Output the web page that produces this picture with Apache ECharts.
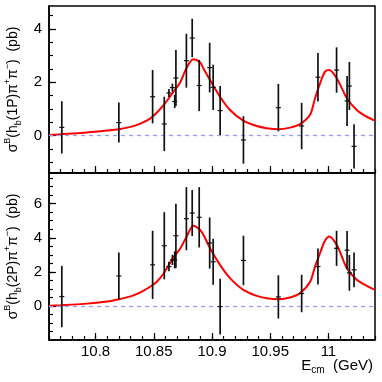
<!DOCTYPE html>
<html><head><meta charset="utf-8">
<script src="https://cdn.jsdelivr.net/npm/echarts@6/dist/echarts.min.js"></script>
<style>html,body{margin:0;padding:0;background:#fff;}#c{width:382px;height:382px;}</style>
</head><body><div id="c"></div>
<script>
// ---- data ----
const energies = [10.771, 10.820, 10.849, 10.859, 10.863, 10.866, 10.868, 10.869, 10.878, 10.883, 10.889,
                  10.898, 10.901, 10.907, 10.927, 10.957, 10.977, 10.991, 11.007, 11.016, 11.018, 11.022];
const sigma1P = [0.31, 0.49, 1.46, 0.44, 1.60, 1.80, 1.28, 2.16, 2.81, 3.66, 1.88,
                 2.55, 1.81, 0.94, -0.16, 1.05, 0.36, 2.19, 2.46, 1.30, 1.86, -0.40];
const err1P   = [0.98, 0.75, 1.00, 1.02, 0.15, 0.15, 0.25, 1.05, 1.01, 0.72, 0.96,
                 0.93, 0.85, 0.92, 0.89, 0.89, 0.87, 0.91, 0.85, 0.94, 0.90, 0.83];
const sigma2P = [0.55, 1.76, 2.41, 3.53, 2.31, 2.70, 2.70, 4.12, 5.12, 5.45, 5.20,
                 3.69, 2.59, -0.04, 2.67, 0.53, 0.73, 2.31, 3.38, 3.27, 1.94, 2.12];
const err2P   = [1.80, 1.37, 2.00, 1.97, 0.28, 0.30, 0.50, 1.88, 1.85, 1.35, 1.77,
                 1.50, 1.35, 1.64, 1.45, 1.27, 1.10, 1.06, 1.03, 1.12, 1.05, 1.02];

const fitE = [10.760, 10.770, 10.790, 10.810, 10.820, 10.830, 10.838, 10.8472, 10.853, 10.8586, 10.867,
              10.8726, 10.8783, 10.884, 10.8897, 10.8926, 10.8983, 10.9069, 10.9155, 10.9269, 10.9384,
              10.947, 10.957, 10.967, 10.9756, 10.9842, 10.9885, 10.9928, 10.9971, 11.0008, 11.0071,
              11.0115, 11.0158, 11.0243, 11.0315, 11.0386, 11.040];
const fit1P = [0.02, 0.05, 0.11, 0.19, 0.24, 0.33, 0.44, 0.65, 0.88, 1.15, 1.65,
               1.99, 2.55, 2.86, 2.75, 2.52, 2.09, 1.46, 0.96, 0.56, 0.36,
               0.28, 0.24, 0.30, 0.43, 0.78, 1.40, 1.96, 2.40, 2.46, 2.15,
               1.78, 1.40, 0.96, 0.74, 0.59, 0.57];
const fit2P = [0.01, 0.04, 0.12, 0.26, 0.39, 0.56, 0.78, 1.14, 1.45, 1.92, 2.86,
               3.35, 4.08, 4.71, 4.47, 4.18, 3.39, 2.41, 1.63, 0.94, 0.59,
               0.45, 0.39, 0.49, 0.75, 1.40, 2.31, 3.10, 3.84, 4.08, 3.59,
               2.90, 2.22, 1.53, 1.24, 0.98, 0.96];

const xMajorTicks = [10.8, 10.85, 10.9, 10.95, 11.0];
const y1MajorTicks = [0, 2, 4];
const y2MajorTicks = [0, 2, 4, 6];

// ---- build ----
const xMinorTicks = [];
for (let i = 0; i <= 28; i++) xMinorTicks.push(+(10.76 + i * 0.01).toFixed(2));
const y1MinorTicks = [];
for (let v = -1; v <= 4.5; v += 0.5) y1MinorTicks.push(v);
const y2MinorTicks = [];
for (let v = -1.5; v <= 7.5; v += 0.5) y2MinorTicks.push(v);

const FONT = 'Liberation Sans';
const X_MIN = 10.76, X_MAX = 11.04;

function xAxisPair(grid, withLabels) {
  return [
    { type: 'value', gridIndex: grid, min: X_MIN, max: X_MAX, position: 'bottom',
      axisLine: { show: true, onZero: false, lineStyle: { color: '#000', width: 1.5 } },
      axisTick: { show: true, inside: true, length: 7, customValues: xMajorTicks, lineStyle: { color: '#000', width: 1.2 } },
      axisLabel: { show: withLabels, customValues: xMajorTicks, margin: 4,
                   formatter: v => String(+(+v).toFixed(2)),
                   color: '#000', fontFamily: FONT, fontSize: 15 },
      splitLine: { show: false } },
    { type: 'value', gridIndex: grid, min: X_MIN, max: X_MAX, position: 'bottom',
      axisLine: { show: false, onZero: false },
      axisTick: { show: true, inside: true, length: 4, customValues: xMinorTicks, lineStyle: { color: '#000', width: 1.2 } },
      axisLabel: { show: false }, splitLine: { show: false } }
  ];
}
const richName = {
  m: { fontFamily: FONT, fontSize: 14, color: '#000', lineHeight: 20, verticalAlign: 'middle' },
  sup: { fontFamily: FONT, fontSize: 9, color: '#000', lineHeight: 10, verticalAlign: 'top' },
  sub: { fontFamily: FONT, fontSize: 9, color: '#000', lineHeight: 10, verticalAlign: 'bottom' }
};
function yAxisPair(grid, min, max, majors, minors, name) {
  return [
    { type: 'value', gridIndex: grid, min: min, max: max, position: 'left',
      name: name, nameLocation: 'middle', nameRotate: 90, nameGap: 22,
      nameTextStyle: { rich: richName },
      axisLine: { show: true, onZero: false, lineStyle: { color: '#000', width: 1.5 } },
      axisTick: { show: true, inside: true, length: 7, customValues: majors, lineStyle: { color: '#000', width: 1.2 } },
      axisLabel: { show: true, customValues: majors, margin: 7, color: '#000', fontFamily: FONT, fontSize: 15 },
      splitLine: { show: false } },
    { type: 'value', gridIndex: grid, min: min, max: max, position: 'left',
      axisLine: { show: false, onZero: false },
      axisTick: { show: true, inside: true, length: 4, customValues: minors, lineStyle: { color: '#000', width: 1.2 } },
      axisLabel: { show: false }, splitLine: { show: false } }
  ];
}

function errRender(params, api) {
  const x = api.value(0), y = api.value(1), e = api.value(2);
  const c = api.coord([x, y]);
  const hi = api.coord([x, y + e]);
  const lo = api.coord([x, y - e]);
  return { type: 'group', children: [
    { type: 'line', shape: { x1: c[0], y1: hi[1], x2: c[0], y2: lo[1] }, style: { stroke: '#111', lineWidth: 1.7 } },
    { type: 'line', shape: { x1: c[0] - 2.5, y1: c[1], x2: c[0] + 2.5, y2: c[1] }, style: { stroke: '#111', lineWidth: 1.2 } }
  ]};
}

function errSeries(xi, yi, vals, errs) {
  return { type: 'custom', xAxisIndex: xi, yAxisIndex: yi, renderItem: errRender, z: 5,
           encode: { x: 0, y: 1 },
           data: energies.map((e, i) => [e, vals[i], errs[i]]) };
}
function fitSeries(xi, yi, vals) {
  return { type: 'line', xAxisIndex: xi, yAxisIndex: yi, showSymbol: false, smooth: 0.3, z: 3,
           lineStyle: { color: '#ff0000', width: 2 },
           data: fitE.map((e, i) => [e, vals[i]]),
           markLine: { silent: true, symbol: ['none', 'none'], label: { show: false },
                       lineStyle: { color: '#9a9aff', type: [4, 4], width: 1.3 },
                       data: [{ yAxis: 0 }] } };
}

const name1 = '{m|σ}{sup|B}{m|(h}{sub|b}{m|(1P)π}{sup|+}{m|π}{sup|−}{m|)  (pb)}';
const name2 = '{m|σ}{sup|B}{m|(h}{sub|b}{m|(2P)π}{sup|+}{m|π}{sup|−}{m|)  (pb)}';

const chart = echarts.init(document.getElementById('c'));
chart.setOption({
  animation: false,
  backgroundColor: '#fff',
  grid: [
    { left: 49, top: 6, width: 326, height: 167, show: true, borderColor: '#000', borderWidth: 1.5,
      backgroundColor: 'transparent', containLabel: false, outerBoundsMode: 'none' },
    { left: 49, top: 173, width: 326, height: 167, show: true, borderColor: '#000', borderWidth: 1.5,
      backgroundColor: 'transparent', containLabel: false, outerBoundsMode: 'none' }
  ],
  xAxis: [].concat(xAxisPair(0, false), xAxisPair(1, true)),
  yAxis: [].concat(
    yAxisPair(0, -1.4, 4.86, y1MajorTicks, y1MinorTicks, name1),
    yAxisPair(1, -2, 7.8, y2MajorTicks, y2MinorTicks, name2)),
  graphic: [{
    type: 'text', right: 9, top: 358,
    style: { text: '{m|E}{sub|cm}{m|  (GeV)}', rich: {
      m: { fontFamily: FONT, fontSize: 15, fill: '#000', lineHeight: 20, verticalAlign: 'middle' },
      sub: { fontFamily: FONT, fontSize: 10, fill: '#000', lineHeight: 12, verticalAlign: 'bottom' } } }
  }],
  series: [
    fitSeries(0, 0, fit1P), errSeries(0, 0, sigma1P, err1P),
    fitSeries(2, 2, fit2P), errSeries(2, 2, sigma2P, err2P)
  ]
});
</script></body></html>
